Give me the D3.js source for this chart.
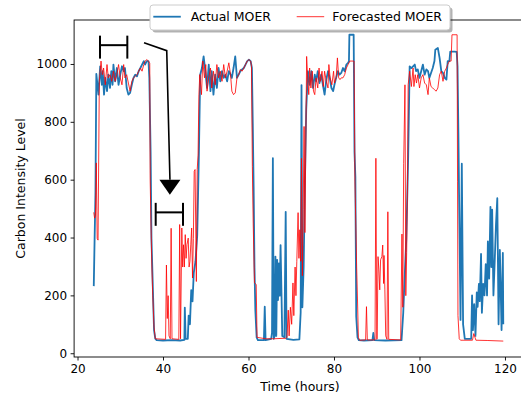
<!DOCTYPE html>
<html><head><meta charset="utf-8">
<script src="https://cdn.jsdelivr.net/npm/d3@7"></script>
<style>body{margin:0;background:#fff}svg{display:block;font-family:"DejaVu Sans",sans-serif}</style>
</head><body><svg id="chart" width="521" height="396"></svg>
<script>
const xTicks=[20,40,60,80,100,120];
const yTicks=[0,200,400,600,800,1000];
const seriesNames=["Actual MOER","Forecasted MOER"];
const xLabel="Time (hours)";
const yLabel="Carbon Intensity Level";

// Actual MOER: [hour, value]
const actualDay1=[[23.8,232],[24.0,397],[24.2,556],[24.4,966],[24.9,894],[25.3,992],[25.7,928],[25.9,975],[26.2,894],[26.5,952],[26.9,906],[27.2,963],[27.6,917],[27.9,975],[28.2,928],[28.4,998],[28.8,940],[29.2,986],[29.6,928],[30.0,963],[30.4,992],[30.8,975],[31.1,986],[31.5,917],[31.9,894],[32.3,900],[32.7,928],[33.1,952],[33.5,963],[33.9,957],[34.3,975],[34.7,986],[35.1,998],[35.5,1010],[35.8,998],[36.2,1010],[36.6,1010],[36.8,952],[37.1,695],[37.3,397],[37.6,238],[37.9,80],[38.2,50]];
const actualNight1=[[38.5,45],[40.0,44],[42.0,45],[44.0,44],[45.0,46],[45.1,158],[45.3,50],[45.8,50],[46.0,130],[46.3,100],[46.6,218],[46.9,179],[47.2,278],[47.6,318],[48.0,407],[48.2,546],[48.4,695]];
const actualDay2=[[48.7,963],[49.1,986],[49.5,1026],[49.9,975],[50.3,917],[50.7,998],[51.1,906],[51.4,975],[51.8,894],[52.2,963],[52.6,917],[53.0,986],[53.4,940],[53.8,975],[54.2,952],[54.6,963],[55.0,940],[55.4,975],[55.8,963],[56.1,952],[56.5,986],[56.9,1026],[57.3,952],[57.7,963],[58.1,975],[58.5,981],[58.9,986],[59.3,998],[59.7,1010],[60.1,1015],[60.5,1010],[60.8,986],[61.0,793],[61.2,575],[61.4,298],[61.6,149],[61.9,55]];
const actualNight2=[[62.2,45],[63.6,45],[63.8,161],[64.0,45],[65.3,50],[65.5,70],[65.7,674],[65.9,50],[66.1,60],[66.3,334],[66.5,60],[66.7,323],[66.9,184],[67.1,311],[67.3,199],[67.5,374],[67.7,219],[67.9,60],[68.4,55],[68.7,489],[68.9,50],[70.5,46],[71.9,48],[72.2,140],[72.4,927],[72.6,159],[72.9,298],[73.2,595],[73.5,843]];
const actualDay3=[[73.9,975],[74.3,928],[74.7,975],[75.1,917],[75.5,963],[75.8,940],[76.2,975],[76.6,934],[77.0,963],[77.4,928],[77.8,894],[78.2,946],[78.6,975],[79.0,952],[79.4,917],[79.8,906],[80.1,928],[80.5,952],[80.9,975],[81.3,963],[81.7,969],[82.1,986],[82.5,975],[82.9,998],[83.3,1004],[83.5,1010],[83.6,1101],[84.6,1101],[84.8,695],[85.0,610],[85.2,127],[85.5,55]];
const actualNight3=[[85.8,45],[87.0,44],[89.0,45],[89.2,70],[89.4,45],[92.0,44],[95.8,45],[96.2,140],[96.6,288],[96.9,392],[97.1,516],[97.35,675]];
const actualDay4=[[97.7,992],[98.1,986],[98.5,992],[98.9,998],[99.2,975],[99.6,981],[100.0,952],[100.4,975],[100.8,998],[101.2,963],[101.6,981],[102.0,975],[102.3,952],[102.7,969],[103.1,986],[103.5,1010],[103.7,1049],[104.3,1055],[104.7,1021],[105.1,975],[105.5,969],[105.9,952],[106.3,946],[106.6,1010],[107.0,1010],[107.2,1043],[108.2,1043],[108.7,1042],[108.9,992],[109.1,764],[109.3,496],[109.6,115],[109.9,655],[110.2,100],[110.6,50]];
const actualNight4=[[112.1,50],[112.3,200],[112.5,80],[112.8,170],[113.1,60],[113.4,210],[113.6,160],[113.9,240],[114.1,180],[114.4,343],[114.6,140],[114.9,240],[115.2,200],[115.5,308],[115.8,200],[116.0,387],[116.3,258],[116.6,506],[116.8,298],[117.0,496],[117.3,200],[117.6,318],[117.9,447],[118.2,536],[118.5,100],[118.8,357],[119.2,80],[119.5,347],[119.6,100]];

// Forecasted MOER: [hour, value]
const forecastDay1=[[23.8,487],[24.0,467],[24.2,477],[24.4,658],[24.6,397],[24.8,391],[25.1,940],[25.5,1010],[25.8,963],[26.1,986],[26.5,928],[26.9,998],[27.2,952],[27.6,963],[28.0,940],[28.4,975],[28.8,940],[29.2,963],[29.6,998],[30.0,952],[30.4,928],[30.8,998],[31.1,952],[31.5,963],[31.9,934],[32.3,906],[32.7,940],[33.1,952],[33.5,957],[33.9,963],[34.3,975],[34.7,986],[35.1,975],[35.5,998],[35.8,1010],[36.2,1015],[36.6,1010],[36.9,1002],[37.0,595],[37.2,437],[37.4,298],[37.6,199],[37.9,90],[38.2,50]];
const forecastNight1=[[40.6,48],[40.8,305],[41.0,120],[41.2,199],[41.4,60],[41.7,50],[41.9,432],[42.1,50],[43.7,48],[43.9,445],[44.1,50],[44.4,433],[44.6,298],[44.8,375],[45.0,298],[45.2,410],[45.4,328],[45.6,375],[45.9,398],[46.1,298],[46.3,318],[46.5,377],[46.7,433],[46.9,260],[47.1,397],[47.3,629],[47.5,635],[47.8,248],[48.0,635],[48.2,685],[48.4,893]];
const forecastDay2=[[48.6,963],[49.0,894],[49.3,1010],[49.7,952],[50.0,998],[50.3,906],[50.7,952],[51.1,986],[51.4,917],[51.8,975],[52.2,928],[52.6,998],[53.0,952],[53.4,975],[53.8,940],[54.2,998],[54.6,952],[55.0,975],[55.4,1004],[55.8,963],[56.1,906],[56.5,894],[56.9,900],[57.3,952],[57.7,963],[58.1,981],[58.5,975],[58.9,986],[59.3,998],[59.7,1010],[60.1,1015],[60.5,1010],[60.7,992],[60.9,645],[61.1,447],[61.4,243],[61.8,238],[62.0,55]];
const forecastNight2=[[64.0,50],[66.0,50],[68.8,52],[69.0,55],[69.3,149],[69.5,60],[69.8,159],[70.1,100],[70.4,243],[70.6,130],[70.9,298],[71.1,199],[71.3,318],[71.6,486],[71.8,328],[72.0,427],[72.2,318],[72.4,674],[72.6,268],[72.8,496],[73.0,784],[73.2,417]];
const forecastDay3=[[73.6,1026],[73.8,963],[74.1,894],[74.3,986],[74.6,917],[74.9,975],[75.2,906],[75.5,894],[75.8,952],[76.2,917],[76.5,986],[76.8,940],[77.2,975],[77.5,922],[77.8,975],[78.2,940],[78.6,917],[78.8,998],[79.1,952],[79.5,928],[79.9,975],[80.1,934],[80.5,952],[80.8,1021],[81.1,952],[81.4,946],[81.7,952],[82.1,952],[82.5,963],[82.9,986],[83.3,998],[83.7,1010],[84.7,1010],[84.9,595],[85.1,447],[85.3,298],[85.5,184],[85.7,55]];
const forecastNight3=[[86.0,45],[87.4,46],[87.6,161],[87.8,46],[89.6,46],[89.8,674],[90.0,48],[90.1,50],[90.3,334],[90.5,288],[90.7,219],[90.9,323],[91.2,334],[91.4,374],[91.6,241],[91.7,338],[91.9,219],[92.1,60],[92.4,48],[92.6,489],[92.8,48],[95.6,46],[95.9,412],[96.1,159],[96.3,655],[96.6,928],[96.8,199],[97.0,348],[97.2,595]];
const forecastDay4=[[97.35,928],[97.7,975],[98.1,922],[98.5,986],[98.7,922],[99.0,963],[99.3,934],[99.6,963],[100.0,917],[100.4,952],[100.8,963],[101.2,934],[101.6,928],[102.0,894],[102.3,952],[102.7,922],[103.1,917],[103.5,911],[103.9,906],[104.3,917],[104.7,963],[105.1,975],[105.5,940],[105.9,975],[106.3,986],[106.6,998],[107.0,1010],[107.4,1010],[107.6,1101],[108.8,1101],[108.9,595],[109.0,130],[109.3,50]];
const forecastNight4=[[109.6,45],[112.4,45],[112.7,68],[113.2,45],[116.0,44],[119.6,42]];

// Annotations (data units): window brackets [start, end, level], arrow polyline and tip
const windowBrackets=[[25.26,31.65,1065],[38.29,44.68,487]];
const arrowPath=[[35.56,1073],[40.87,1046],[41.62,600]];
const arrowTip=[41.6,548];

const actual=[].concat(actualDay1,actualNight1,actualDay2,actualNight2,actualDay3,actualNight3,actualDay4,actualNight4);
const forecast=[].concat(forecastDay1,forecastNight1,forecastDay2,forecastNight2,forecastDay3,forecastNight3,forecastDay4,forecastNight4);

const svg=d3.select("#chart");
const x=d3.scaleLinear().domain([19.2,124.8]).range([74.1,525.5]);
const y=d3.scaleLinear().domain([-13,1152]).range([357,20]);

const line=d3.line().x(d=>x(d[0])).y(d=>y(d[1]));

const plot=svg.append("g");
plot.append("path").datum(actual).attr("d",line)
  .attr("fill","none").attr("stroke","#1f77b4").attr("stroke-width",1.8).attr("stroke-linejoin","round");
plot.append("path").datum(forecast).attr("d",line)
  .attr("fill","none").attr("stroke","#ff0000").attr("stroke-width",1).attr("stroke-opacity",0.8).attr("stroke-linejoin","round");

// Annotations
const ann=svg.append("g").attr("stroke","#000").attr("stroke-width",2).attr("fill","none");
const capH=11.2;
windowBrackets.forEach(b=>{
  const x0=x(b[0]),x1=x(b[1]),yy=y(b[2]);
  ann.append("line").attr("x1",x0).attr("x2",x1).attr("y1",yy).attr("y2",yy);
  ann.append("line").attr("x1",x0).attr("x2",x0).attr("y1",yy-capH*0.85).attr("y2",yy+capH*1.2);
  ann.append("line").attr("x1",x1).attr("x2",x1).attr("y1",yy-capH*0.85).attr("y2",yy+capH*1.2);
});
ann.append("path").datum(arrowPath).attr("d",line).attr("stroke-width",1.6);
{
  const bx=x(arrowPath[2][0]),by=y(arrowPath[2][1]);
  const tx=x(arrowTip[0]),ty=y(arrowTip[1]);
  svg.append("path").attr("d",`M${bx-10.5},${by}L${bx+10.5},${by}L${tx},${ty}Z`).attr("fill","#000");
}

// Frame
svg.append("rect").attr("x",74.1).attr("y",20).attr("width",525.5-74.1).attr("height",337)
  .attr("fill","none").attr("stroke","#000").attr("stroke-width",0.9);

// Axes
const xAxis=svg.append("g").attr("transform","translate(0,357)")
  .call(d3.axisBottom(x).tickValues(xTicks).tickSize(3.5).tickPadding(3.5).tickFormat(d3.format("d")));
const yAxis=svg.append("g").attr("transform","translate(74.1,0)")
  .call(d3.axisLeft(y).tickValues(yTicks).tickSize(3.5).tickPadding(3.5).tickFormat(d3.format("d")));
[xAxis,yAxis].forEach(a=>{
  a.select(".domain").remove();
  a.selectAll(".tick line").attr("stroke","#000").attr("stroke-width",0.9);
  a.selectAll(".tick text").attr("fill","#000").style("font-size","12px").style("font-family","DejaVu Sans");
});

svg.append("text").attr("x",300).attr("y",391).attr("text-anchor","middle")
  .style("font-size","12.5px").text(xLabel);
svg.append("text").attr("transform","translate(25,188.5) rotate(-90)").attr("text-anchor","middle")
  .style("font-size","12.5px").text(yLabel);

// Legend
const lg=svg.append("g");
lg.append("rect").attr("x",152.5).attr("y",7.5).attr("width",300).attr("height",25).attr("rx",3)
  .attr("fill","#000").attr("fill-opacity",0.3);
lg.append("rect").attr("x",150).attr("y",5).attr("width",300).attr("height",25).attr("rx",3)
  .attr("fill","#fff").attr("stroke","#cccccc").attr("stroke-width",1);
const legendItems=[
  {name:seriesNames[0],color:"#1f77b4",w:1.8,op:1,x0:153.3,tx:190.7},
  {name:seriesNames[1],color:"#ff0000",w:1,op:0.8,x0:296.7,tx:332.3}
];
legendItems.forEach(it=>{
  lg.append("line").attr("x1",it.x0).attr("x2",it.x0+27.5).attr("y1",16.7).attr("y2",16.7)
    .attr("stroke",it.color).attr("stroke-width",it.w).attr("stroke-opacity",it.op);
  lg.append("text").attr("x",it.tx).attr("y",21.2).style("font-size","12.5px").attr("fill","#000").text(it.name);
});
</script></body></html>
